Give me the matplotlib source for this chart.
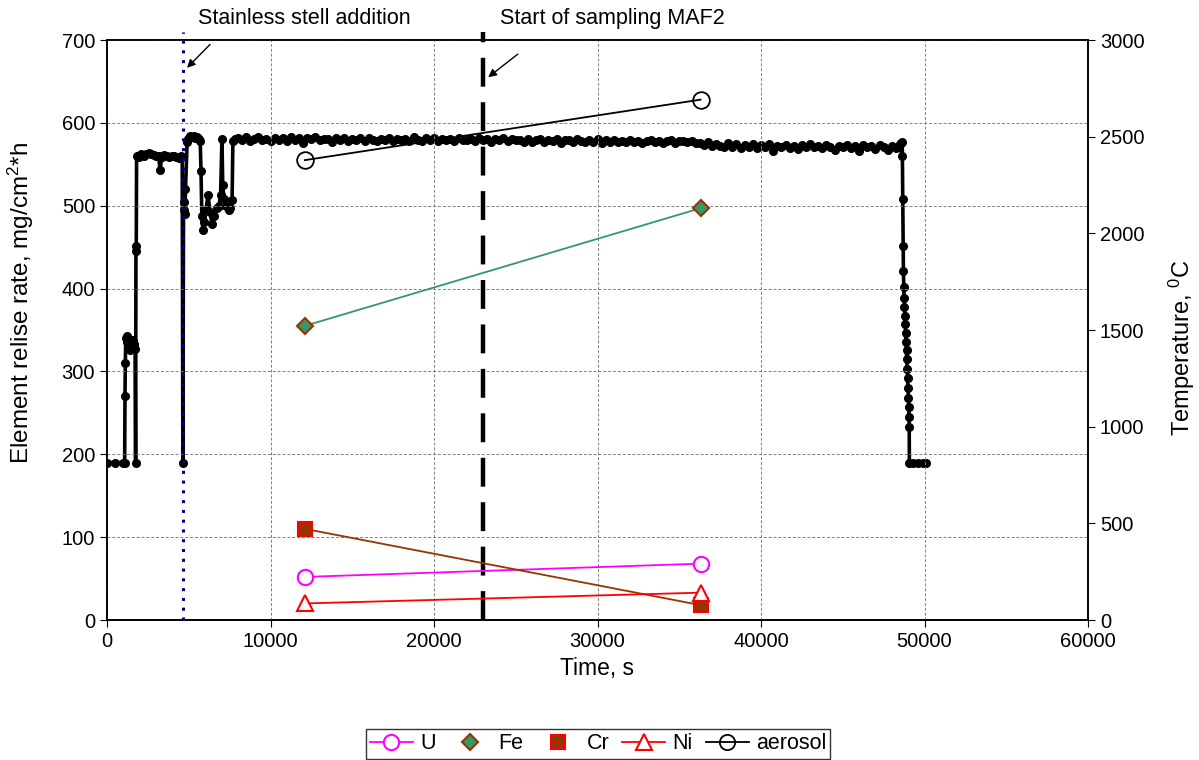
import matplotlib
matplotlib.use('Agg')
from matplotlib import pyplot as plt
from matplotlib.lines import Line2D

plt.rcParams['font.family'] = ['Liberation Sans', 'DejaVu Sans']
plt.rcParams['mathtext.fontset'] = 'custom'
plt.rcParams['mathtext.rm'] = 'Liberation Sans'
plt.rcParams['mathtext.it'] = 'Liberation Sans:italic'

# element release rates, mg/cm2*h (left axis)
sample_time = [12100, 36300]
rate_U = [52, 68]
rate_Fe = [355, 497]
rate_Cr = [110, 18]
rate_Ni = [20, 33]
rate_aerosol = [555, 628]

# temperature log, deg C (right axis)
temp_time = [
    0, 500, 1000, 1080, 1100, 1120, 1150, 1200, 1250, 1300, 1350, 1400, 1450, 1500,
    1550, 1600, 1650, 1680, 1720, 1750, 1770, 1790, 1810, 1950, 2100, 2250, 2400,
    2550, 2700, 2850, 3000, 3150, 3250, 3350, 3500, 3650, 3800, 3950, 4100, 4250,
    4400, 4500, 4600, 4640, 4680, 4720, 4760, 4800, 4900, 4950, 5000, 5100, 5200,
    5300, 5400, 5500, 5600, 5700, 5750, 5800, 5870, 5950, 6050, 6180, 6300, 6420,
    6550, 6700, 6850, 6950, 7030, 7080, 7150, 7300, 7450, 7550, 7650, 7700, 7800,
    8000, 8250, 8500, 8750, 9000, 9250, 9500, 9750, 10000, 10250,
    10500, 10750, 11000, 11250, 11500, 11750, 12000, 12250, 12500, 12750,
    13000, 13250, 13500, 13750, 14000, 14250, 14500, 14750, 15000, 15250,
    15500, 15750, 16000, 16250, 16500, 16750, 17000, 17250, 17500, 17750,
    18000, 18250, 18500, 18750, 19000, 19250, 19500, 19750, 20000, 20250,
    20500, 20750, 21000, 21250, 21500, 21750, 22000, 22250, 22500, 22750,
    23000, 23250, 23500, 23750, 24000, 24250, 24500, 24750, 25000,
    25250, 25500, 25750, 26000, 26250, 26500, 26750, 27000, 27250, 27500,
    27750, 28000, 28250, 28500, 28750, 29000, 29250, 29500, 29750, 30000,
    30250, 30500, 30750, 31000, 31250, 31500, 31750, 32000, 32250, 32500,
    32750, 33000, 33250, 33500, 33750, 34000, 34250, 34500, 34750, 35000,
    35250, 35500, 35750, 36000,
    36250, 36500, 36750, 37000, 37250, 37500, 37750, 38000, 38250, 38500,
    38750, 39000, 39250, 39500, 39750, 40000, 40250, 40500, 40750, 41000,
    41250, 41500, 41750, 42000, 42250, 42500, 42750, 43000, 43250, 43500,
    43750, 44000, 44250, 44500, 44750, 45000, 45250, 45500, 45750, 46000,
    46250, 46500, 46750, 47000, 47250, 47500, 47750, 48000, 48250, 48500,
    48560, 48600, 48640, 48670, 48690, 48710, 48730, 48750, 48775, 48800, 48825,
    48850, 48875, 48900, 48925, 48950, 48975, 49000, 49020, 49040, 49055, 49065,
    49075, 49300, 49600, 49900, 50100,
]
temp_c = [
    814, 814, 814, 814, 1157, 1330, 1457, 1470, 1440, 1410, 1425, 1395, 1405, 1420,
    1450, 1445, 1415, 1430, 1400, 814, 1910, 1935, 2400, 2395, 2408, 2400, 2410,
    2415, 2412, 2405, 2400, 2398, 2330, 2395, 2403, 2398, 2395, 2401, 2398, 2394,
    2392, 2399, 2395, 814, 2120, 2160, 2100, 2230, 2470, 2488, 2495, 2502,
    2498, 2505, 2495, 2500, 2490, 2480, 2320, 2090, 2015, 2060, 2120, 2200, 2110, 2050,
    2090, 2130, 2140, 2200, 2490, 2250, 2180, 2140, 2120, 2130, 2170, 2480, 2490,
    2492, 2484, 2497, 2479, 2490, 2499, 2482, 2489, 2476, 2495,
    2485, 2493, 2480, 2498, 2483, 2491, 2468, 2494, 2487, 2496,
    2481, 2490, 2486, 2475, 2493, 2485, 2495, 2480, 2489, 2484,
    2494, 2477, 2491, 2485, 2479, 2490, 2482, 2493, 2478, 2488,
    2481, 2489, 2480, 2496, 2485, 2477, 2491, 2484, 2494, 2479,
    2488, 2482, 2490, 2476, 2493, 2485, 2481, 2489, 2478, 2494,
    2484, 2490, 2474, 2488, 2482, 2492, 2479, 2487, 2481,
    2485, 2475, 2488, 2470, 2482, 2490, 2473, 2484, 2476, 2487,
    2469, 2481, 2485, 2474, 2489, 2478, 2471, 2484, 2475, 2486,
    2468, 2481, 2474, 2485, 2472, 2480, 2470, 2483, 2473, 2479,
    2466, 2478, 2484, 2471, 2480, 2469, 2477, 2482, 2467, 2476,
    2479, 2470, 2478, 2468,
    2466, 2456, 2471, 2451, 2463, 2454, 2446, 2466, 2449, 2461,
    2440, 2457, 2448, 2462, 2443, 2455, 2445, 2460, 2428, 2454,
    2447, 2458, 2442, 2453, 2436, 2456, 2446, 2461, 2444, 2452,
    2439, 2458, 2447, 2433, 2454, 2444, 2459, 2441, 2451, 2426,
    2456, 2445, 2453, 2438, 2457, 2446, 2430, 2452, 2443, 2463,
    2465, 2400, 2470, 2180, 1937, 1805, 1723, 1667, 1620, 1575, 1530,
    1485, 1440, 1395, 1350, 1300, 1250, 1200, 1150, 1100, 1050, 1000,
    814, 814, 814, 814, 814,
]

steel_time = 4650
maf2_time = 23000

fig = plt.figure(figsize=(11.99, 7.6), dpi=100)
ax = fig.add_axes([107 / 1199, 1 - 620 / 760, 981 / 1199, 580 / 760])
ax2 = ax.twinx()
ax.set_zorder(ax2.get_zorder() + 1)
ax.patch.set_visible(False)

fs = 14.5

ax2.plot(temp_time, temp_c, color='black', lw=2.6, marker='o', ms=5.5,
         mec='black', mfc='black', zorder=2)

ax.plot(sample_time, rate_U, color='#FF00FF', lw=1.3, marker='o', ms=11,
        mfc='white', mec='#FF00FF', mew=1.5, zorder=5)
ax.plot(sample_time, rate_Fe, color='#339966', lw=1.3, marker='D', ms=8,
        mfc='#339966', mec='#993300', mew=1.5, zorder=5)
ax.plot(sample_time, rate_Cr, color='#993300', lw=1.3, marker='s', ms=10,
        mfc='#993300', mec='#FF0000', mew=1.5, zorder=5)
ax.plot(sample_time, rate_Ni, color='#FF0000', lw=1.3, marker='^', ms=11,
        mfc='white', mec='#FF0000', mew=1.5, zorder=5)
ax.plot(sample_time, rate_aerosol, color='black', lw=1.3, marker='o', ms=12,
        mfc='none', mec='black', mew=1.3, zorder=5)

ax.plot([steel_time, steel_time], [0, 710], color='#000080', lw=2.2,
        linestyle=(0, (1, 2.2)), clip_on=False, zorder=4)
ax.plot([maf2_time, maf2_time], [0, 710], color='black', lw=3.2,
        linestyle=(0, (6.5, 3.5)), clip_on=False, zorder=4)

ax.set_xlim(0, 60000)
ax.set_ylim(0, 700)
ax2.set_ylim(0, 3000)
ax.set_xticks(range(0, 60001, 10000))
ax.set_yticks(range(0, 701, 100))
ax2.set_yticks(range(0, 3001, 500))
ax.grid(True, color='#808080', linestyle=(0, (3, 2)), lw=0.7)
ax.tick_params(labelsize=fs, length=5, direction='out')
ax2.tick_params(labelsize=fs, length=5, direction='out')
for sp in list(ax.spines.values()) + list(ax2.spines.values()):
    sp.set_color('black')
    sp.set_linewidth(1.2)

ax.set_xlabel('Time, s', fontsize=16.5)
ax.xaxis.set_label_coords(0.4995, -0.064)
ax.set_ylabel('Element relise rate, mg/cm$^{2}$*h', fontsize=17.5)
ax.yaxis.set_label_coords(-0.0725, 0.547)
ax2.set_ylabel('Temperature, $^{0}$C', fontsize=17)
ax2.yaxis.set_label_coords(1.0805, 0.47)

ax.text(5566, 726, 'Stainless stell addition', fontsize=15.5, va='center', ha='left')
ax.text(24036, 726, 'Start of sampling MAF2', fontsize=15.5, va='center', ha='left')
ax.annotate('', xy=(4770, 664), xytext=(6422, 697),
            arrowprops=dict(arrowstyle='-|>', color='black', lw=1, mutation_scale=12),
            annotation_clip=False)
ax.annotate('', xy=(23180, 653), xytext=(25259, 685),
            arrowprops=dict(arrowstyle='-|>', color='black', lw=1, mutation_scale=12),
            annotation_clip=False)

handles = [
    Line2D([], [], color='#FF00FF', lw=1.3, marker='o', ms=11, mfc='white', mec='#FF00FF', mew=1.5),
    Line2D([], [], linestyle='none', marker='D', ms=8, mfc='#339966', mec='#993300', mew=1.5),
    Line2D([], [], linestyle='none', marker='s', ms=10, mfc='#993300', mec='#FF0000', mew=1.5),
    Line2D([], [], color='#FF0000', lw=1.3, marker='^', ms=11, mfc='white', mec='#FF0000', mew=1.5),
    Line2D([], [], color='black', lw=1.3, marker='o', ms=11, mfc='none', mec='black', mew=1.3),
]
leg = fig.legend(handles, ['U', 'Fe', 'Cr', 'Ni', 'aerosol'], loc='upper center',
                 bbox_to_anchor=(598 / 1199, 1 - 729 / 760), ncol=5, fontsize=15.5,
                 frameon=True, fancybox=False, edgecolor='black', handlelength=2.0,
                 handletextpad=0.33, columnspacing=0.6, borderpad=0.2, borderaxespad=0)
leg.get_frame().set_linewidth(1)

fig.savefig('out.png', dpi=100)
